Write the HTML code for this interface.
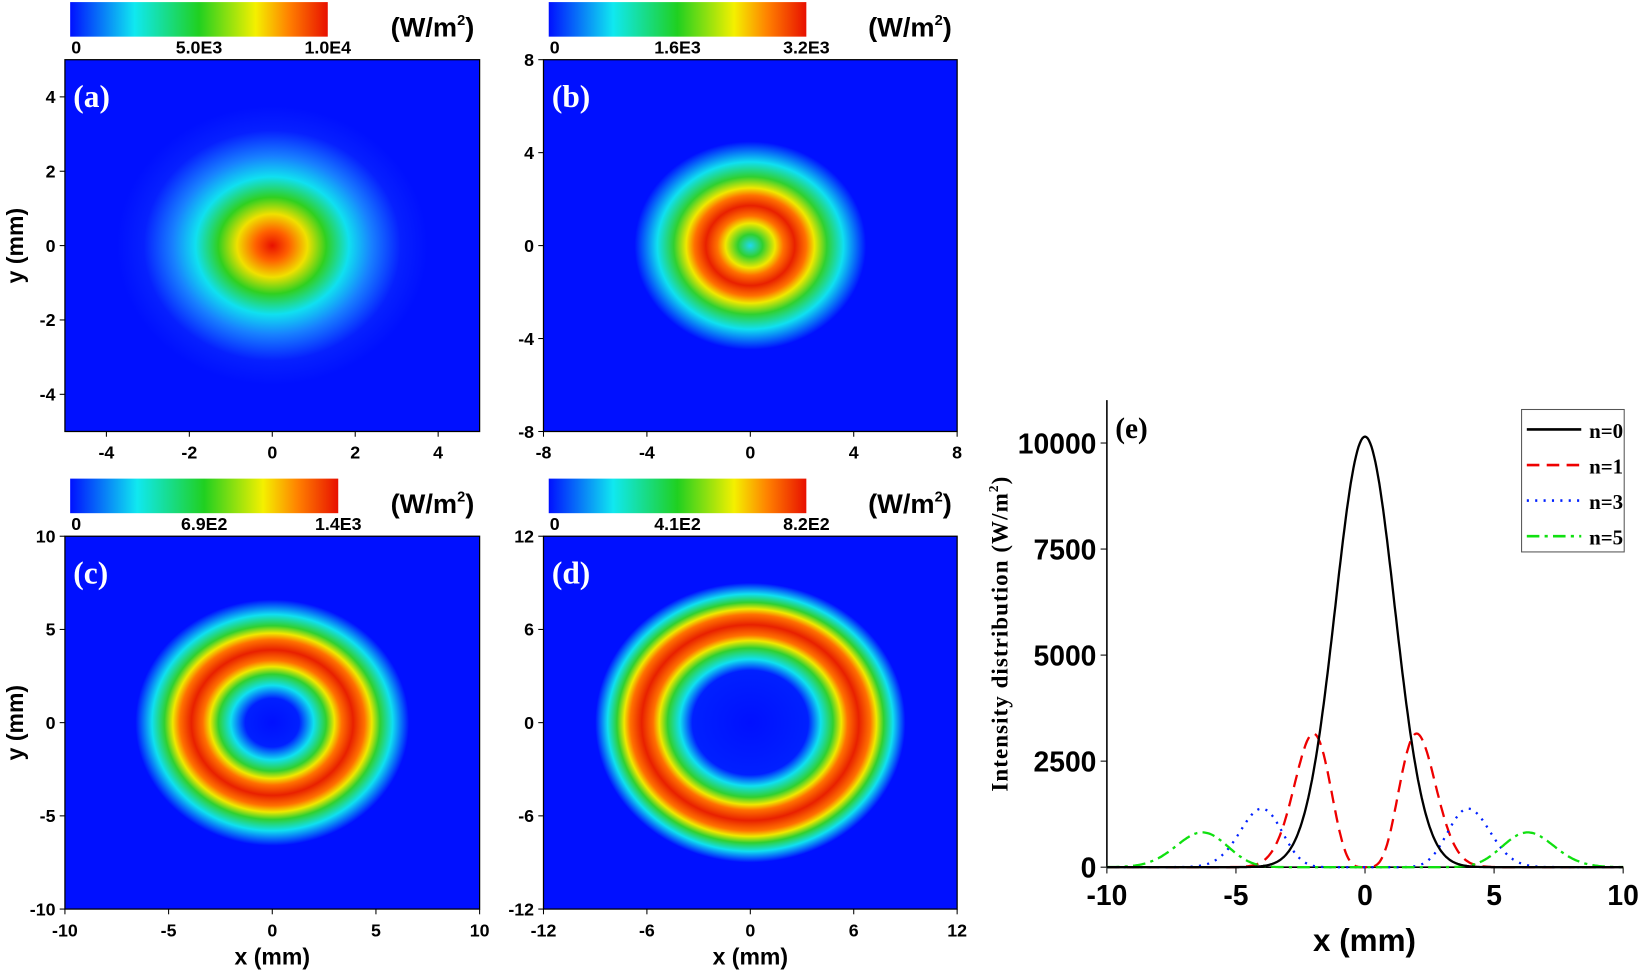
<!DOCTYPE html>
<html><head><meta charset="utf-8"><style>
html,body{margin:0;padding:0;background:#fff;}
svg{display:block;}
text{font-family:"Liberation Sans",sans-serif;font-weight:bold;}
.t{font-size:17px;}
.lab{font-size:30px;font-family:"Liberation Serif",serif;fill:#fff;}
</style></head><body>
<svg id="s" width="1642" height="974" viewBox="0 0 1568 930" preserveAspectRatio="none" xmlns="http://www.w3.org/2000/svg">
<defs>
<linearGradient id="cb" x1="0" x2="1" y1="0" y2="0">
<stop offset="0" stop-color="#0010ff"/><stop offset="0.25" stop-color="#10e8f0"/><stop offset="0.5" stop-color="#20d020"/><stop offset="0.72" stop-color="#f4f000"/><stop offset="0.85" stop-color="#ff8000"/><stop offset="1" stop-color="#e81000"/>
</linearGradient>
<radialGradient id="ga" cx="0.5" cy="0.5" r="0.5">
<stop offset="0" stop-color="#e81000"/><stop offset="0.08" stop-color="#ff6000"/><stop offset="0.17" stop-color="#f0e000"/><stop offset="0.26" stop-color="#30d020"/><stop offset="0.37" stop-color="#10e0f0"/><stop offset="0.48" stop-color="#1880ff"/><stop offset="0.62" stop-color="#0620ff"/><stop offset="0.75" stop-color="#0010ff"/>
</radialGradient>
<radialGradient id="gb" cx="0.5" cy="0.5" r="0.5">
<stop offset="0" stop-color="#20d8f0"/><stop offset="0.06" stop-color="#30d030"/><stop offset="0.12" stop-color="#f0e800"/><stop offset="0.16" stop-color="#ff7000"/><stop offset="0.215" stop-color="#e82000"/><stop offset="0.27" stop-color="#ff7000"/><stop offset="0.31" stop-color="#f0e800"/><stop offset="0.37" stop-color="#30d030"/><stop offset="0.45" stop-color="#10e0f0"/><stop offset="0.56" stop-color="#0010ff"/>
</radialGradient>
<radialGradient id="gc" cx="0.5" cy="0.5" r="0.5">
<stop offset="0" stop-color="#0010ff"/><stop offset="0.13" stop-color="#0020ff"/><stop offset="0.2" stop-color="#10e0f0"/><stop offset="0.26" stop-color="#30d030"/><stop offset="0.3" stop-color="#f0e800"/><stop offset="0.335" stop-color="#ff7000"/><stop offset="0.39" stop-color="#e82000"/><stop offset="0.445" stop-color="#ff7000"/><stop offset="0.48" stop-color="#f0e800"/><stop offset="0.52" stop-color="#30d030"/><stop offset="0.58" stop-color="#10e0f0"/><stop offset="0.66" stop-color="#0010ff"/>
</radialGradient>
<radialGradient id="gd" cx="0.5" cy="0.5" r="0.5">
<stop offset="0" stop-color="#0010ff"/><stop offset="0.28" stop-color="#0020ff"/><stop offset="0.34" stop-color="#10e0f0"/><stop offset="0.4" stop-color="#30d030"/><stop offset="0.44" stop-color="#f0e800"/><stop offset="0.47" stop-color="#ff7000"/><stop offset="0.525" stop-color="#e82000"/><stop offset="0.58" stop-color="#ff7000"/><stop offset="0.61" stop-color="#f0e800"/><stop offset="0.645" stop-color="#30d030"/><stop offset="0.69" stop-color="#10e0f0"/><stop offset="0.75" stop-color="#0010ff"/>
</radialGradient>
</defs>
<rect width="1568" height="930" fill="#fff"/>
<g id="g"></g>
</svg>
<script>
var g=document.getElementById('g'),h='';
function T(x,y,s,a,cls,extra){h+='<text x="'+x+'" y="'+y+'" text-anchor="'+(a||'middle')+'" class="'+(cls||'t')+'" '+(extra||'')+'>'+s+'</text>';}
function panel(x0,y0,w,hh,grad,lab,xr,ticks,ylbl,xlbl,cb){
 h+='<rect x="'+x0+'" y="'+y0+'" width="'+w+'" height="'+hh+'" fill="url(#'+grad+')"/>';
 h+='<rect x="'+x0+'" y="'+y0+'" width="'+w+'" height="'+hh+'" fill="none" stroke="#000" stroke-width="1.2"/>';
 T(x0+8,y0+45,lab,'start','lab');
 ticks.forEach(function(v){
  var px=x0+(v+xr)/(2*xr)*w, py=y0+hh-(v+xr)/(2*xr)*hh;
  h+='<line x1="'+px+'" y1="'+(y0+hh)+'" x2="'+px+'" y2="'+(y0+hh+5)+'" stroke="#000"/>';
  h+='<line x1="'+x0+'" y1="'+py+'" x2="'+(x0-5)+'" y2="'+py+'" stroke="#000"/>';
  T(px,y0+hh+26,v);
  T(x0-9,py+6,v,'end');
 });
 if(ylbl) T(0,0,'y (mm)','middle','t','transform="translate(22,'+(y0+hh/2)+') rotate(-90)" style="font-size:22px"');
 if(xlbl) T(x0+w/2,y0+hh+53,'x (mm)','middle','t','style="font-size:22px"');
 h+='<rect x="'+(x0+5)+'" y="'+(y0-55)+'" width="'+cb[3]+'" height="33" fill="url(#cb)"/>';
 T(x0+6,y0-6,'0','start');T(x0+5+cb[3]/2,y0-6,cb[0]);T(x0+5+cb[3],y0-6,cb[1],cb[2]);
 T(x0+w-5,y0-22,'(W/m<tspan dy="-11" style="font-size:14px">2</tspan><tspan dy="11">)</tspan>','end','t','style="font-size:26px"');
}
panel(62,57,396,355,'ga','(a)',5,[-4,-2,0,2,4],true,false,['5.0E3','1.0E4','middle',246]);
panel(519,57,395,355,'gb','(b)',8,[-8,-4,0,4,8],false,false,['1.6E3','3.2E3','middle',246]);
panel(62,512,396,356,'gc','(c)',10,[-10,-5,0,5,10],true,true,['6.9E2','1.4E3','middle',256]);
panel(519,512,395,356,'gd','(d)',12,[-12,-6,0,6,12],false,true,['4.1E2','8.2E2','middle',246]);
var X0=1057,X1=1550,Y0=828;
function px(x){return X0+(x+10)*(X1-X0)/20;} function py(I){return Y0-I*0.0405;}
h+='<line x1="'+X0+'" y1="382" x2="'+X0+'" y2="'+Y0+'" stroke="#000" stroke-width="1.5"/>';
h+='<line x1="'+X0+'" y1="'+Y0+'" x2="'+X1+'" y2="'+Y0+'" stroke="#000" stroke-width="1.5"/>';
[0,2500,5000,7500,10000].forEach(function(v){var y=py(v);h+='<line x1="'+(X0-6)+'" y1="'+y+'" x2="'+X0+'" y2="'+y+'" stroke="#000"/>';T(X0-10,y+10,v,'end','t','style="font-size:27px"');});
[-10,-5,0,5,10].forEach(function(v){var x=px(v);h+='<line x1="'+x+'" y1="'+Y0+'" x2="'+x+'" y2="'+(Y0+6)+'" stroke="#000"/>';T(x,Y0+36,v,'middle','t','style="font-size:27px"');});
T(X0+246,Y0+80,'x (mm)','middle','t','style="font-size:30px"');
T(0,0,'Intensity distribution (W/m<tspan dy="-9" style="font-size:13px">2</tspan><tspan dy="9">)</tspan>','middle','t','transform="translate(962,605) rotate(-90)" style="font-family:Liberation Serif,serif;font-size:22px;letter-spacing:1px"');
T(X0+8,418,'(e)','start','t','style="font-family:Liberation Serif,serif;font-size:28px"');
function curve(f,col,dash){var d='';for(var i=0;i<=400;i++){var x=-10+i*0.05;d+=(i?'L':'M')+px(x).toFixed(1)+' '+py(f(x)).toFixed(1);}h+='<path d="'+d+'" fill="none" stroke="'+col+'" stroke-width="2.2" '+(dash?'stroke-dasharray="'+dash+'"':'')+'/>';}
function lg(A,s,k){return function(x){var u=x*x/s;return A*Math.pow(u*Math.exp(1-u),k);};}
curve(lg(3150,4,2),'#e00','12,7');
curve(lg(1380,16,6),'#0020ff','2,6');
curve(lg(820,39.7,10),'#10e010','12,5,3,5');
curve(function(x){return 10150*Math.exp(-x*x/(2*1.15*1.15));},'#000');
h+='<rect x="1453" y="391" width="98" height="136" fill="#fff" stroke="#555"/>';
[['#000',''],['#e00','12,7'],['#0020ff','2,6'],['#10e010','12,5,3,5']].forEach(function(c,i){var y=410+i*34;h+='<line x1="1458" y1="'+y+'" x2="1510" y2="'+y+'" stroke="'+c[0]+'" stroke-width="2.5" '+(c[1]?'stroke-dasharray="'+c[1]+'"':'')+'/>';T(1550,y+8,'n='+[0,1,3,5][i],'end','t','style="font-family:Liberation Serif,serif;font-size:20px"');});
g.innerHTML=h;
</script>
</body></html>
